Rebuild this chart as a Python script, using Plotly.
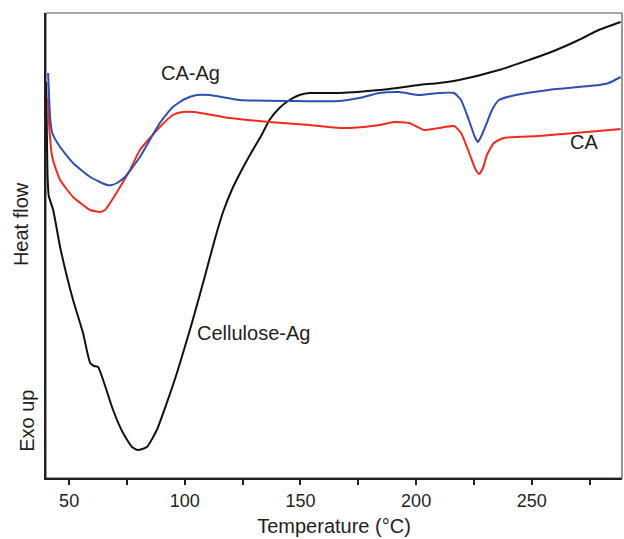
import plotly.graph_objects as go

# Temperature (°C) and heat-flow (arbitrary units)
black_T = [40.1, 40.4, 40.7, 41.2, 43.1, 46.1, 49.1, 51.7, 56.0, 59.1, 60.8, 62.5, 64.7, 69.0, 73.3,
           77.2, 79.7, 83.6, 87.9, 92.2, 96.6, 102.2, 104.3, 108.6, 112.9, 116.4, 120.3, 124.6,
           128.9, 133.2, 136.6, 140.9, 145.3, 149.6, 153.9, 166.8, 184.1, 201.3, 209.9, 218.5,
           235.8, 257.3, 270.3, 278.9, 288.4]
black_v = [396, 340, 300, 282, 268, 231, 201, 178, 145, 115, 112, 111, 98, 68, 45,
           31, 28, 31, 48, 75, 105, 148, 165, 201, 238, 265, 288, 308,
           326, 343, 358, 370, 378, 383, 385, 385, 388, 393, 395, 398,
           408, 425, 438, 448, 456]

blue_T = [40.9, 41.4, 41.8, 42.7, 46.1, 51.7, 59.1, 66.4, 68.5, 70.7, 74.1, 80.6, 89.2, 94.8,
          100.0, 105.2, 110.8, 123.7, 145.3, 166.8, 175.4, 184.1, 192.7, 201.3, 209.9, 216.4,
          219.4, 222.8, 225.4, 226.7, 228.4, 230.2, 232.8, 235.8, 243.1, 257.3, 278.9, 283.2, 288.4]
blue_v = [405, 378, 360, 345, 331, 315, 301, 293, 293, 295, 301, 321, 355, 371,
          379, 383, 383, 378, 377, 377, 380, 385, 386, 383, 385, 385,
          378, 358, 341, 336, 343, 353, 368, 378, 383, 388, 393, 395, 401]

red_T = [40.9, 41.4, 42.7, 44.4, 46.1, 51.7, 59.1, 63.4, 65.5, 67.7, 72.0, 76.3, 80.6, 89.2, 94.8,
         99.0, 104.0, 119.4, 136.6, 153.9, 166.8, 171.1, 184.1, 190.5, 197.0, 203.4, 209.9, 216.4,
         219.4, 222.8, 225.4, 227.2, 228.9, 230.6, 233.6, 237.9, 253.0, 278.9, 288.4]
red_v = [380, 351, 321, 308, 298, 281, 268, 266, 268, 275, 291, 308, 328, 351, 363,
         366, 366, 360, 356, 353, 350, 350, 353, 356, 355, 348, 350, 352,
         345, 326, 310, 304, 310, 323, 335, 340, 342, 347, 349]

tick_vals = [50, 100, 150, 200, 250]

font = "Liberation Sans, Arial, sans-serif"
ink = "#231f20"
fig = go.Figure()
fig.add_trace(go.Scatter(x=black_T, y=black_v, mode="lines", line=dict(color="#111111", width=2, shape="spline", smoothing=0.5), name="Cellulose-Ag"))
fig.add_trace(go.Scatter(x=red_T, y=red_v, mode="lines", line=dict(color="#f22a1e", width=2, shape="spline", smoothing=0.5), name="CA"))
fig.add_trace(go.Scatter(x=blue_T, y=blue_v, mode="lines", line=dict(color="#2f4fb0", width=2, shape="spline", smoothing=0.5), name="CA-Ag"))

fig.update_layout(
    width=624, height=539,
    margin=dict(l=46, r=2, t=13, b=61),
    paper_bgcolor="white", plot_bgcolor="white",
    showlegend=False,
    font=dict(family=font, size=19, color=ink),
    xaxis=dict(range=[40, 289], tickvals=tick_vals, ticks="outside", ticklen=5, tickwidth=2,
               tickcolor=ink, showgrid=False, zeroline=False, showline=True,
               linecolor=ink, linewidth=2, tickfont=dict(size=18),
               minor=dict(dtick=25, tick0=25, ticks="outside", ticklen=5, tickwidth=2, tickcolor=ink),
               title=dict(text="Temperature (°C)", standoff=9, font=dict(size=20))),
    yaxis=dict(range=[0, 465], showticklabels=False, ticks="", showgrid=False, zeroline=False,
               showline=True, linecolor=ink, linewidth=2),
)
# thin top/right frame
fig.add_shape(type="rect", xref="paper", yref="paper", x0=0, y0=0, x1=1, y1=1,
              line=dict(color="#555555", width=1.2), layer="below")

fig.add_annotation(x=102.6, y=405, text="CA-Ag", showarrow=False, font=dict(size=20))
fig.add_annotation(x=272.4, y=336, text="CA", showarrow=False, font=dict(size=20))
fig.add_annotation(x=104.3, y=145, text="Cellulose-Ag", showarrow=False, xanchor="left", font=dict(size=20))
fig.add_annotation(xref="paper", yref="paper", x=0, y=0.546, xshift=-25, xanchor="center", yanchor="middle",
                   text="Heat flow", textangle=-90, showarrow=False, font=dict(size=20))
fig.add_annotation(xref="paper", yref="paper", x=0, y=0.123, xshift=-19, xanchor="center", yanchor="middle",
                   text="Exo up", textangle=-90, showarrow=False, font=dict(size=20))

fig.write_html("out.html")
